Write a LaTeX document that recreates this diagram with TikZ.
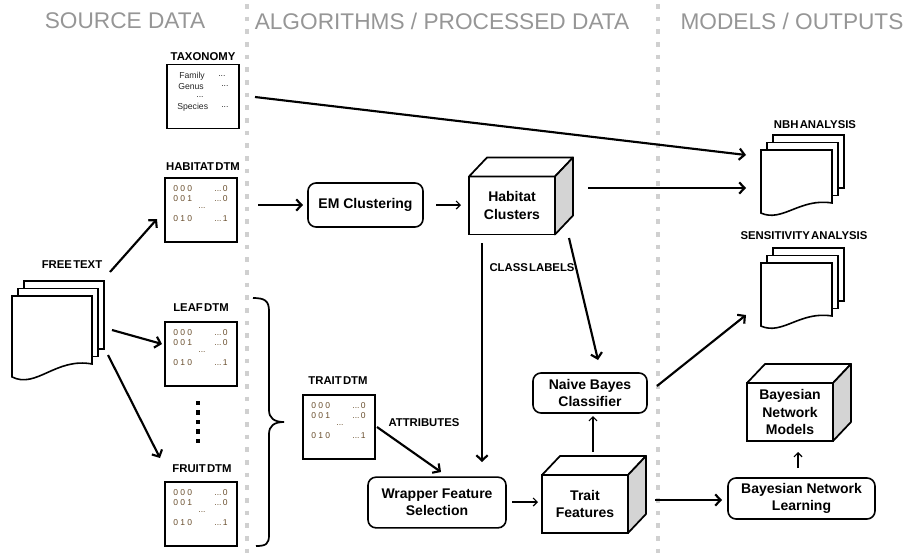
\documentclass[tikz,border=0pt]{standalone}
\usepackage{fontspec}
\setmainfont{Liberation Sans}
\newfontfamily\lblfont[WordSpace=0.4]{Liberation Sans}
\usetikzlibrary{arrows.meta}
\definecolor{hdrgray}{RGB}{150,150,150}
\definecolor{dotgray}{RGB}{208,208,208}
\definecolor{digit}{RGB}{105,78,45}
\definecolor{sidegray}{RGB}{212,212,212}

\newcommand\dtmbox[3]{%
  \node[dtm] (#1) at (#2+36,#3+32) {};
  \node[dig, anchor=west] at (#2+8,#3+11) {0 0 0};
  \node[dig, anchor=west] at (#2+8,#3+21) {0 0 1};
  \node[dig] at (#2+37,#3+30) {...};
  \node[dig, anchor=west] at (#2+8,#3+41) {0 1 0};
  \node[dig, anchor=east] at (#2+63,#3+11) {...\,0};
  \node[dig, anchor=east] at (#2+63,#3+21) {...\,0};
  \node[dig, anchor=east] at (#2+63,#3+41) {...\,1};
}
\newcommand\mycube[4]{%
  \node[cubeface] (#1) at (#2,#3) {#4};
  \draw[cubeline, fill=white] (#1.north west) -- ++(18,-19) -- ++(86,0) -- (#1.north east) -- cycle;
  \draw[cubeline, fill=sidegray] (#1.north east) -- ++(18,-19) -- ++(0,58) -- (#1.south east) -- cycle;
}
\newcommand\docstack[3]{%
  \begin{scope}[shift={#1}]
    \draw[docline, fill=white] (0,0) rectangle (#2,#3);
    \draw[docline, fill=white] (-6,7.5) rectangle (#2-6,#3+7.5);
    \draw[docline, fill=white] (-12,15) -- (#2-12,15) -- (#2-12,#3+15)
      .. controls (-12+0.55*#2,#3+15-0.1*#3) and (-12+0.3*#2,#3+15+0.37*#3) .. (-12,#3+15+0.19*#3) -- cycle;
  \end{scope}
}

\begin{document}
\begin{tikzpicture}[x=0.75pt,y=-0.75pt,
  hdr/.style={font=\fontsize{17}{20}\selectfont, text=hdrgray, inner sep=0},
  lbl/.style={font=\lblfont\bfseries\fontsize{8.5}{10}\selectfont, inner sep=0},
  dig/.style={font=\fontsize{6.4}{7}\selectfont, text=digit, inner sep=0},
  tax/.style={font=\fontsize{6.5}{7}\selectfont, text=black!85, inner sep=0},
  dtm/.style={draw, line width=1.4pt, minimum width=54pt, minimum height=48pt, inner sep=0, outer sep=0},
  proc/.style={draw, fill=white, line width=1.2pt, rounded corners=6pt, align=center,
    font=\bfseries\fontsize{10.5}{13}\selectfont, inner sep=0, outer sep=0},
  cubeface/.style={draw, fill=white, line width=1.3pt, minimum width=64.5pt, minimum height=43.5pt,
    align=center, font=\bfseries\fontsize{10.5}{13}\selectfont, inner sep=0, outer sep=0},
  cubeline/.style={line width=1.3pt, line join=round},
  docline/.style={line width=1.2pt, line join=miter},
  sep/.style={dotgray, line width=3.5pt, dash pattern=on 3.5pt off 6pt},
  bigarrow/.style={line width=1.6pt, -{Straight Barb[length=4pt,width=8.5pt]}},
  smallarrow/.style={line width=0.9pt, -{Straight Barb[length=3pt,width=6pt]}},
]
\useasboundingbox (0,0) rectangle (904,554);

% separators
\draw[sep] (247,4) -- (247,554);
\draw[sep] (658,4) -- (658,554);

% headers
\node[hdr] (h1) at (125,21) {SOURCE DATA};
\node[hdr] (h2) at (442,21) {ALGORITHMS / PROCESSED DATA};
\node[hdr] (h3) at (792,21) {MODELS / OUTPUTS};

% taxonomy
\node[lbl] (taxl) at (203,57) {TAXONOMY};
\node[dtm] (tax) at (203,96.5) {};
\node[tax, anchor=west] at (179,76) {Family};
\node[tax, anchor=west] at (178,86.5) {Genus};
\node[tax] at (200,97) {...};
\node[tax, anchor=west] at (177,107.5) {Species};
\node[tax, anchor=west] at (218,76) {...};
\node[tax, anchor=west] at (221,86.5) {...};
\node[tax, anchor=west] at (221,107.5) {...};

% DTMs
\node[lbl] (hdl) at (203,167) {HABITAT DTM};
\dtmbox{hdtm}{165}{178}
\node[lbl] (ldl) at (201,308) {LEAF DTM};
\dtmbox{ldtm}{165}{322}
\node[lbl] (fdl) at (202,469) {FRUIT DTM};
\dtmbox{fdtm}{165}{482}
\node[lbl] (tdl) at (338,381) {TRAIT DTM};
\dtmbox{tdtm}{303}{395}

\foreach \yy in {403,412.5,422,431.5,441}
  \fill (195.5,\yy-2.2) rectangle ++(4.5,4.5);

% brace
\draw[line width=1.3pt] (253,298) .. controls (265,298) and (269,301) .. (269,311) -- (269,410)
  .. controls (269,418) and (274,422) .. (284,422)
  .. controls (274,422) and (269,426) .. (269,434) -- (269,535)
  .. controls (269,544) and (266,546) .. (256,546);

% free text
\node[lbl] (ftl) at (72,265) {FREE TEXT};
\docstack{(24,281)}{80}{68}
\coordinate (ft) at (57,330);

% NBH & sensitivity
\node[lbl] (nbhl) at (815,125) {NBH ANALYSIS};
\docstack{(773,135)}{71}{53}
\coordinate (nbh) at (795,170);
\node[lbl] (senl) at (804,236) {SENSITIVITY ANALYSIS};
\docstack{(773,248)}{71}{53}
\coordinate (sen) at (795,285);

% process boxes
\node[proc, minimum width=86.25pt, minimum height=33pt] (em) at (365.5,205) {EM Clustering};
\node[proc, minimum width=103.5pt, minimum height=38pt] (wfs) at (437,502.5) {Wrapper Feature\\Selection};
\node[proc, minimum width=85.5pt, minimum height=30pt] (nb) at (590,393) {Naive Bayes\\Classifier};
\node[proc, minimum width=110.25pt, minimum height=30.75pt] (bnl) at (801.5,498.5) {Bayesian Network\\Learning};

% cubes
\mycube{hc}{512}{205.5}{Habitat\\Clusters}
\mycube{tf}{585}{504}{Trait\\Features}
\mycube{bnm}{790}{412}{Bayesian\\Network\\Models}

% labels
\node[lbl] (cll) at (532,268) {CLASS LABELS};
\node[lbl] (atl) at (424,423) {ATTRIBUTES};

% arrows
\draw[bigarrow] (110,272) -- (157,219);
\draw[bigarrow] (112,330) -- (162,344);
\draw[bigarrow] (108,355) -- (160,458);
\draw[bigarrow] (258,205) -- (303,205);
\draw[smallarrow] (436,205) -- (461,205);
\draw[bigarrow] (255,97) -- (746,155);
\draw[bigarrow] (588,188) -- (746,188);
\draw[bigarrow] (482,243) -- (482,462);
\draw[bigarrow] (569,238) -- (598,360);
\draw[bigarrow] (377,427) -- (441,472);
\draw[smallarrow] (512,502) -- (538,502);
\draw[smallarrow] (593,452) -- (593,416);
\draw[bigarrow] (657,386) -- (746,315);
\draw[bigarrow] (655,500) -- (722,500);
\draw[smallarrow] (798,468) -- (798,452);
\end{tikzpicture}
\end{document}
